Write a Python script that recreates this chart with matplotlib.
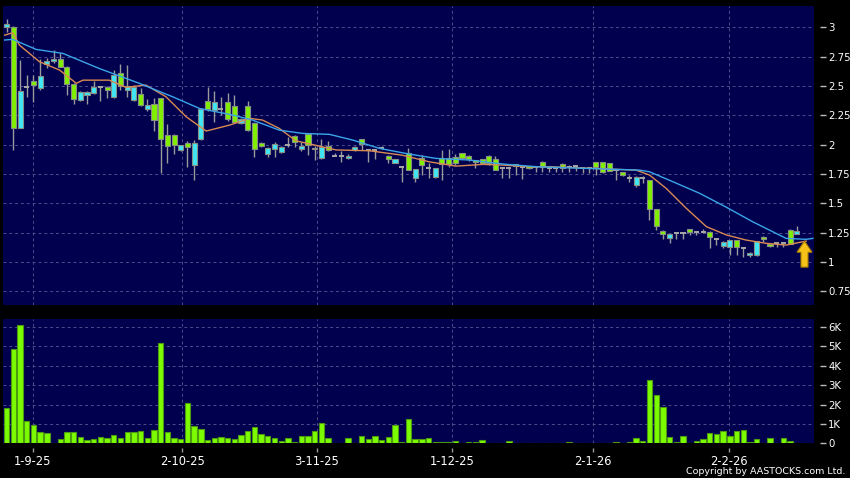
import numpy as np
import matplotlib
matplotlib.use("Agg")
import matplotlib.pyplot as plt
from matplotlib.patches import FancyArrow

# daily candles (price in HKD)
opens = [3.00, 3.00, 2.145, 2.49, 2.54, 2.48, 2.69, 2.71, 2.73, 2.665,
         2.52, 2.38, 2.42, 2.44, 2.49, 2.49, 2.41, 2.61, 2.465, 2.38,
         2.43, 2.30, 2.35, 2.395, 2.085, 2.08, 1.957, 2.014, 1.83, 2.05,
         2.374, 2.294, 2.30, 2.366, 2.33, 2.186, 2.33, 2.186, 2.017, 1.92,
         1.959, 1.939, 1.996, 2.076, 1.959, 2.087, 1.968, 1.888, 1.988, 1.905,
         1.902, 1.883, 1.954, 2.045, 1.954, 1.954, 1.968, 1.905, 1.846, 1.806,
         1.925, 1.712, 1.888, 1.803, 1.721, 1.888, 1.888, 1.897, 1.925, 1.906,
         1.869, 1.877, 1.906, 1.877, 1.798, 1.803, 1.82, 1.812, 1.82, 1.806,
         1.854, 1.803, 1.798, 1.837, 1.806, 1.815, 1.798, 1.803, 1.849, 1.849,
         1.84, 1.783, 1.77, 1.72, 1.656, 1.72, 1.698, 1.448, 1.266, 1.201,
         1.249, 1.249, 1.277, 1.252, 1.255, 1.252, 1.195, 1.138, 1.13, 1.187,
         1.121, 1.059, 1.059, 1.215, 1.153, 1.158, 1.158, 1.272, 1.238]
highs = [3.07, 3.01, 2.72, 2.59, 2.59, 2.73, 2.74, 2.81, 2.78, 2.67,
         2.53, 2.46, 2.46, 2.54, 2.50, 2.50, 2.64, 2.69, 2.68, 2.51,
         2.48, 2.39, 2.40, 2.40, 2.18, 2.09, 2.00, 2.03, 2.04, 2.31,
         2.49, 2.46, 2.41, 2.44, 2.42, 2.23, 2.37, 2.19, 2.02, 1.98,
         2.025, 1.99, 2.067, 2.08, 2.02, 2.09, 1.99, 2.047, 2.03, 1.925,
         1.95, 1.92, 1.99, 2.05, 1.96, 1.96, 1.99, 1.91, 1.88, 1.82,
         1.968, 1.79, 1.91, 1.84, 1.80, 1.954, 1.96, 1.92, 1.93, 1.91,
         1.87, 1.88, 1.91, 1.90, 1.80, 1.81, 1.835, 1.82, 1.82, 1.81,
         1.86, 1.82, 1.81, 1.84, 1.826, 1.826, 1.80, 1.81, 1.85, 1.85,
         1.84, 1.79, 1.77, 1.74, 1.73, 1.73, 1.70, 1.45, 1.27, 1.24,
         1.25, 1.25, 1.28, 1.26, 1.28, 1.26, 1.20, 1.18, 1.19, 1.19,
         1.13, 1.085, 1.18, 1.22, 1.16, 1.17, 1.16, 1.28, 1.309]
lows = [2.96, 1.955, 2.14, 2.41, 2.36, 2.47, 2.65, 2.70, 2.66, 2.42,
        2.35, 2.37, 2.35, 2.43, 2.37, 2.40, 2.40, 2.47, 2.41, 2.37,
        2.33, 2.29, 2.12, 1.76, 1.84, 1.92, 1.95, 1.81, 1.70, 2.04,
        2.29, 2.19, 2.25, 2.20, 2.19, 2.18, 2.12, 1.894, 1.98, 1.897,
        1.897, 1.93, 1.98, 1.98, 1.95, 1.91, 1.87, 1.877, 1.95, 1.90,
        1.85, 1.88, 1.95, 1.954, 1.85, 1.877, 1.96, 1.84, 1.845, 1.684,
        1.78, 1.684, 1.74, 1.712, 1.715, 1.70, 1.81, 1.83, 1.88, 1.86,
        1.80, 1.835, 1.83, 1.78, 1.712, 1.712, 1.74, 1.704, 1.79, 1.77,
        1.763, 1.77, 1.77, 1.77, 1.77, 1.775, 1.755, 1.755, 1.74, 1.76,
        1.775, 1.70, 1.735, 1.684, 1.636, 1.67, 1.357, 1.272, 1.195, 1.158,
        1.20, 1.20, 1.23, 1.23, 1.25, 1.121, 1.144, 1.12, 1.059, 1.059,
        1.045, 1.045, 1.05, 1.172, 1.13, 1.13, 1.13, 1.15, 1.235]
closes = [3.03, 2.14, 2.46, 2.49, 2.51, 2.585, 2.71, 2.73, 2.665, 2.52,
          2.39, 2.45, 2.45, 2.49, 2.49, 2.47, 2.59, 2.50, 2.50, 2.49,
          2.34, 2.34, 2.21, 2.045, 1.985, 1.995, 1.994, 1.98, 2.014, 2.30,
          2.30, 2.366, 2.30, 2.223, 2.194, 2.223, 2.123, 1.966, 1.986, 1.973,
          2.002, 1.982, 1.996, 2.019, 1.988, 1.996, 1.96, 1.982, 1.954, 1.905,
          1.902, 1.905, 1.982, 2.002, 1.954, 1.954, 1.968, 1.874, 1.874, 1.806,
          1.783, 1.789, 1.826, 1.803, 1.798, 1.832, 1.832, 1.84, 1.888, 1.877,
          1.855, 1.84, 1.84, 1.783, 1.798, 1.803, 1.832, 1.812, 1.798, 1.806,
          1.812, 1.803, 1.798, 1.798, 1.806, 1.815, 1.798, 1.803, 1.806, 1.763,
          1.778, 1.783, 1.74, 1.72, 1.727, 1.72, 1.451, 1.306, 1.235, 1.238,
          1.249, 1.249, 1.252, 1.252, 1.255, 1.215, 1.195, 1.172, 1.187, 1.13,
          1.121, 1.073, 1.178, 1.195, 1.136, 1.158, 1.158, 1.153, 1.263]

# volume in thousands of shares
volume = [1.81, 4.88, 6.12, 1.16, 0.95, 0.59, 0.53, 0.05, 0.21, 0.59,
          0.59, 0.31, 0.16, 0.21, 0.34, 0.29, 0.45, 0.26, 0.60, 0.60,
          0.66, 0.29, 0.67, 5.16, 0.59, 0.28, 0.24, 2.07, 0.91, 0.74,
          0.19, 0.26, 0.33, 0.29, 0.21, 0.43, 0.66, 0.84, 0.48, 0.40,
          0.29, 0.12, 0.26, 0.09, 0.40, 0.41, 0.66, 1.05, 0.28, 0.01,
          0.0, 0.28, 0.01, 0.41, 0.22, 0.40, 0.17, 0.33, 0.97, 0.09,
          1.26, 0.21, 0.24, 0.26, 0.07, 0.07, 0.07, 0.14, 0.0, 0.09,
          0.09, 0.17, 0.0, 0.05, 0.05, 0.15, 0.01, 0.01, 0.05, 0.02,
          0.02, 0.01, 0.01, 0.02, 0.10, 0.01, 0.01, 0.05, 0.05, 0.01,
          0.02, 0.07, 0.03, 0.07, 0.26, 0.12, 3.29, 2.49, 1.89, 0.34,
          0.10, 0.41, 0.03, 0.15, 0.22, 0.53, 0.50, 0.64, 0.40, 0.64,
          0.70, 0.07, 0.21, 0.03, 0.26, 0.03, 0.28, 0.12, 0.02]

# moving averages, sampled along the drawn lines (x = bar position)
ma_short_x = [-0.3, 0.9, 1.9, 4.9, 7.9, 10.4, 11.4, 15.3, 17.8, 20.8, 23.8, 26.8,
              29.8, 33.3, 36.3, 38.2, 40.7, 43.2, 49.2, 54.2, 59.1, 63.1, 67.1,
              71.1, 74.1, 78.1, 81.1, 94.0, 96.0, 98.5, 101.5, 104.5, 107.5,
              110.4, 113.4, 116.4, 119.4]
ma_short_y = [2.934, 2.954, 2.849, 2.707, 2.636, 2.523, 2.55, 2.55, 2.489, 2.508,
              2.408, 2.238, 2.116, 2.167, 2.224, 2.21, 2.139, 2.033, 1.955, 1.948,
              1.91, 1.854, 1.817, 1.832, 1.826, 1.812, 1.812, 1.783, 1.741, 1.627,
              1.457, 1.301, 1.23, 1.187, 1.159, 1.144, 1.178]
ma_long_x = [-0.3, 0.9, 4.4, 8.4, 13.8, 19.8, 24.8, 28.8, 33.8, 36.7, 40.7, 44.2,
             48.2, 51.7, 55.7, 60.1, 64.1, 69.1, 74.1, 79.1, 94.5, 96.0, 99.5,
             103.5, 107.5, 111.4, 114.4, 116.4, 119.4, 120.4]
ma_long_y = [2.892, 2.898, 2.812, 2.778, 2.65, 2.523, 2.408, 2.309, 2.252, 2.21,
             2.124, 2.096, 2.088, 2.039, 1.968, 1.92, 1.883, 1.869, 1.835, 1.812,
             1.783, 1.769, 1.684, 1.585, 1.466, 1.343, 1.258, 1.201, 1.193, 1.201]

date_pos = [3.9, 26.2, 46.3, 66.5, 87.6, 107.8]
date_labels = ["1-9-25", "2-10-25", "3-11-25", "1-12-25", "2-1-26", "2-2-26"]
price_ticks = [0.75, 1, 1.25, 1.5, 1.75, 2, 2.25, 2.5, 2.75, 3]
price_labels = ["0.75", "1", "1.25", "1.5", "1.75", "2", "2.25", "2.5", "2.75", "3"]
vol_ticks = [0, 1, 2, 3, 4, 5, 6]
vol_labels = ["0", "1K", "2K", "3K", "4K", "5K", "6K"]

navy = "#00004f"
grid_c = "#4d4d8c"
up_c = "#3fe6f5"
down_c = "#80f000"
wick_c = "#9a9a9a"

x = np.arange(len(opens))
o = np.array(opens)
c = np.array(closes)

fig = plt.figure(figsize=(8.5, 4.78), dpi=100, facecolor="black")
ax = fig.add_axes([0.0039, 0.3619, 0.954, 0.6255])
axv = fig.add_axes([0.0039, 0.0722, 0.954, 0.2605])

for a in (ax, axv):
    a.set_facecolor(navy)
    for s in a.spines.values():
        s.set_visible(False)
    a.set_xlim(-0.5, 120.6)
    a.set_xticks(date_pos)
    a.grid(True, color=grid_c, linestyle=(0, (3, 3)), linewidth=0.7)
    a.set_axisbelow(True)
    a.yaxis.tick_right()
    a.spines["right"].set_position(("outward", 4))
    a.tick_params(axis="y", colors="#bbbbbb", labelcolor="white", length=4,
                  width=1, pad=2, labelsize=7.3)

# price panel
ax.vlines(x, lows, highs, color=wick_c, linewidth=1, zorder=2)
body = np.abs(c - o)
flat = body < 1e-9
cols = np.where(c > o, up_c, down_c)
ax.bar(x[~flat], body[~flat], bottom=np.minimum(o, c)[~flat], width=0.76,
       color=cols[~flat], edgecolor="#8a8f86", linewidth=0.8, zorder=3)
ax.hlines(o[flat], x[flat] - 0.38, x[flat] + 0.38, color="#a8a8a8",
          linewidth=1.4, zorder=3)
ax.plot(ma_short_x, ma_short_y, color="#d98a52", linewidth=1, zorder=4)
ax.plot(ma_long_x, ma_long_y, color="#3aa6e8", linewidth=1, zorder=4)
ax.add_patch(FancyArrow(119.15, 0.956, 0, 0.222, width=1.05, head_width=2.25,
                        head_length=0.095, length_includes_head=True,
                        facecolor="#f5c21a", edgecolor="#a87a00", linewidth=0.8,
                        zorder=5))
ax.set_ylim(0.633, 3.182)
ax.set_yticks(price_ticks)
ax.set_yticklabels(price_labels)
ax.tick_params(axis="x", length=0, labelbottom=False)

# volume panel
axv.bar(x, volume, width=0.8, color="#7cfc00", edgecolor="#4c9a10",
        linewidth=0.8, zorder=3)
axv.set_ylim(0, 6.41)
axv.set_yticks(vol_ticks)
axv.set_yticklabels(vol_labels)
axv.spines["bottom"].set_position(("outward", 3))
axv.set_xticklabels(date_labels)
axv.tick_params(axis="x", colors="#999999", labelcolor="white", length=3,
                width=1, pad=2, labelsize=8.3)

fig.text(0.994, 0.004, "Copyright by AASTOCKS.com Ltd.", color="white",
         fontsize=6.8, ha="right", va="bottom")

fig.savefig("out.png", dpi=100, facecolor="black")
